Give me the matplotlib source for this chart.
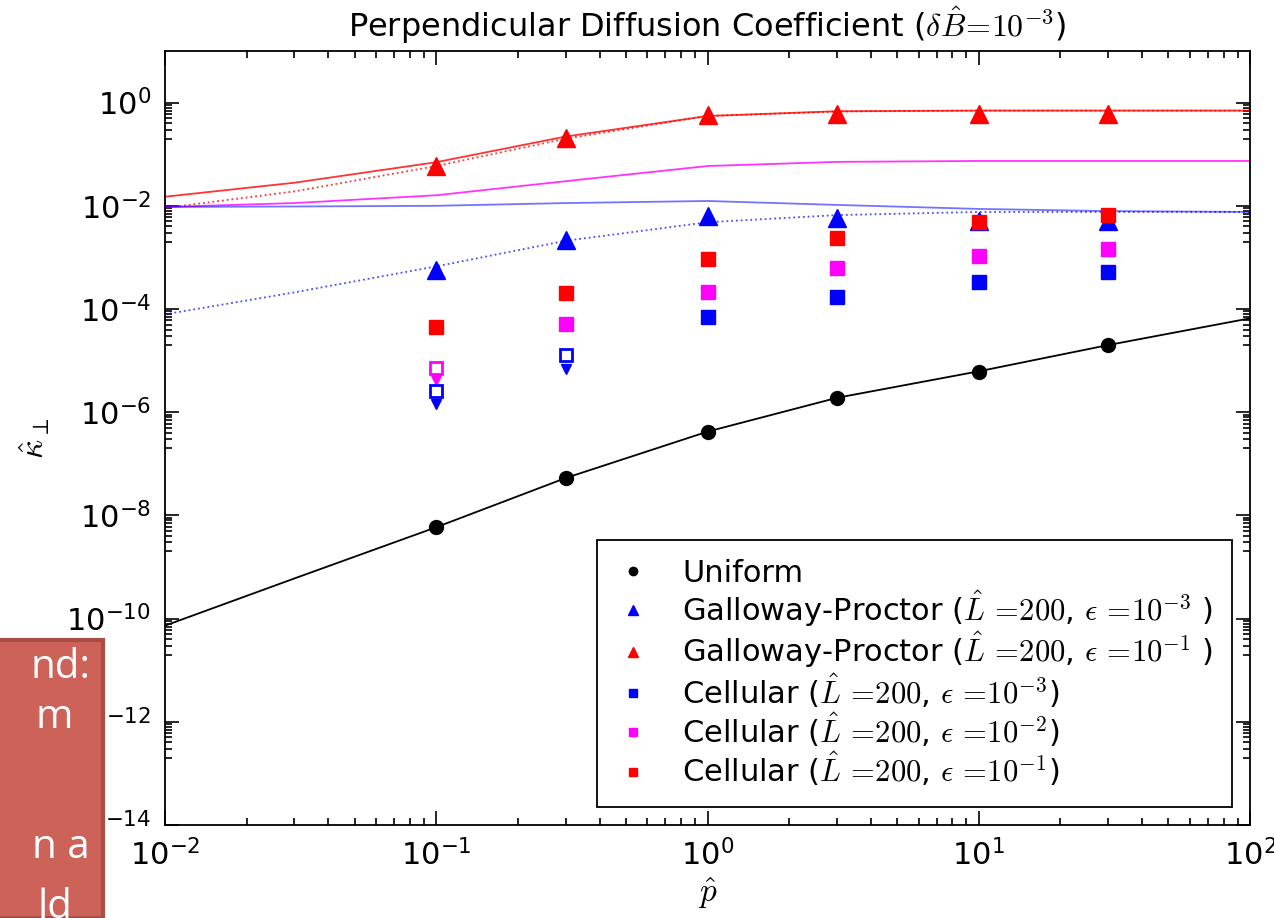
import matplotlib
matplotlib.use("Agg")
import matplotlib.pyplot as plt
import numpy as np
from matplotlib.patches import Rectangle
from matplotlib.ticker import FixedLocator, NullFormatter

plt.rcParams['mathtext.fontset'] = 'cm'
plt.rcParams['font.family'] = ['DejaVu Sans']

# ---- data ----
p_pts = [0.1, 0.3, 1, 3, 10, 30]
uniform = [5.9e-9, 5.3e-8, 4.2e-7, 1.9e-6, 6.1e-6, 2.0e-5]
gp_e3 = [5.6e-4, 2.2e-3, 6.3e-3, 5.8e-3, 5.0e-3, 5.0e-3]
gp_e1 = [0.059, 0.21, 0.58, 0.61, 0.61, 0.61]

cell_e3_p = [1, 3, 10, 30]
cell_e3 = [6.9e-5, 1.7e-4, 3.4e-4, 5.1e-4]
cell_e3_open_p = [0.1, 0.3]
cell_e3_open = [2.6e-6, 1.3e-5]
cell_e3_lim = [1.45e-6, 7.0e-6]

cell_e2_p = [0.3, 1, 3, 10, 30]
cell_e2 = [5.2e-5, 2.1e-4, 6.2e-4, 1.05e-3, 1.45e-3]
cell_e2_open_p = [0.1]
cell_e2_open = [7.3e-6]
cell_e2_lim = [4.3e-6]

cell_e1 = [4.4e-5, 2.0e-4, 9.3e-4, 2.4e-3, 4.8e-3, 6.6e-3]

p_line = [0.01, 0.03, 0.1, 0.3, 1, 3, 10, 30, 100]
uniform_model = [7.3e-11, 6.0e-10, 5.9e-9, 5.3e-8, 4.2e-7, 1.9e-6, 6.2e-6, 2.0e-5, 6.6e-5]
red_solid = [0.015, 0.028, 0.070, 0.22, 0.55, 0.68, 0.70, 0.70, 0.70]
red_dotted = [0.0091, 0.019, 0.059, 0.20, 0.55, 0.67, 0.70, 0.70, 0.70]
magenta_solid = [0.0095, 0.0113, 0.016, 0.030, 0.059, 0.071, 0.074, 0.074, 0.074]
blue_solid = [0.0095, 0.0097, 0.0100, 0.0113, 0.0124, 0.0104, 0.0087, 0.0079, 0.0076]
blue_dotted = [7.9e-5, 2.1e-4, 6.7e-4, 2.1e-3, 4.8e-3, 6.6e-3, 7.6e-3, 7.6e-3, 7.6e-3]

labels = ["Uniform",
          r"Galloway-Proctor ($\hat{L}\,=\!200$, $\epsilon\,=\!10^{-3}$ )",
          r"Galloway-Proctor ($\hat{L}\,=\!200$, $\epsilon\,=\!10^{-1}$ )",
          r"Cellular ($\hat{L}\,=\!200$, $\epsilon\,=\!10^{-3}$)",
          r"Cellular ($\hat{L}\,=\!200$, $\epsilon\,=\!10^{-2}$)",
          r"Cellular ($\hat{L}\,=\!200$, $\epsilon\,=\!10^{-1}$)"]

B = '#0000ff'; R = '#ff0000'; M = '#ff00ff'; K = '#000000'

fig = plt.figure(figsize=(12.74, 9.18), dpi=100)
ax = fig.add_axes([165/1274, 1-825/918, 1085/1274, 774/918])
ax.set_xscale('log'); ax.set_yscale('log')

# model curves
ax.plot(p_line, uniform_model, '-', color=K, lw=1.3)
ax.plot(p_line, red_solid, '-', color=R, lw=1.3, alpha=0.8)
ax.plot(p_line, red_dotted, ':', color=R, lw=1.3, alpha=0.8)
ax.plot(p_line, magenta_solid, '-', color=M, lw=1.3, alpha=0.8)
ax.plot(p_line, blue_solid, '-', color=B, lw=1.3, alpha=0.55)
ax.plot(p_line, blue_dotted, ':', color=B, lw=1.3, alpha=0.7)

# points
h_u, = ax.plot(p_pts, uniform, 'o', color=K, ms=10, ls='none')
h_g3, = ax.plot(p_pts, gp_e3, '^', color=B, mec=B, ms=13, ls='none')
h_g1, = ax.plot(p_pts, gp_e1, '^', color=R, mec=R, ms=13, ls='none')
ax.plot(cell_e2_open_p, cell_e2_lim, 'v', color=M, ms=7, ls='none')
ax.plot(cell_e3_open_p, cell_e3_lim, 'v', color=B, ms=7, ls='none')
ax.plot(cell_e3_open_p, cell_e3_open, 's', mfc='white', mec=B, mew=2, ms=9, ls='none')
ax.plot(cell_e2_open_p, cell_e2_open, 's', mfc='white', mec=M, mew=2, ms=9, ls='none')
h_c3, = ax.plot(cell_e3_p, cell_e3, 's', color=B, ms=10, ls='none')
h_c2, = ax.plot(cell_e2_p, cell_e2, 's', color=M, ms=10, ls='none')
h_c1, = ax.plot(p_pts, cell_e1, 's', color=R, ms=10, ls='none')

ax.set_xlim(1e-2, 1e2)
ax.set_ylim(1e-14, 1e1)

# ticks
ax.xaxis.set_major_locator(FixedLocator([1e-2, 1e-1, 1e0, 1e1, 1e2]))
xminor = [k * 10.0**e for e in range(-2, 2) for k in range(2, 10)]
ax.xaxis.set_minor_locator(FixedLocator(xminor))
ax.set_xticklabels([r'$\mathregular{10^{%d}}$' % e for e in range(-2, 3)])
ymaj = [10.0**e for e in range(-14, 1, 2)]
ax.yaxis.set_major_locator(FixedLocator(ymaj))
yminor = [k * 10.0**e for e in range(-15, 0, 2) for k in range(2, 10)]
ax.yaxis.set_minor_locator(FixedLocator(yminor))
ax.set_yticklabels([r'$\mathregular{10^{%d}}$' % e for e in range(-14, 1, 2)])
ax.xaxis.set_minor_formatter(NullFormatter())
ax.yaxis.set_minor_formatter(NullFormatter())
ax.tick_params(which='both', direction='in', top=True, right=True, labelsize=22, width=1.2)
ax.tick_params(which='major', length=10, pad=10)
ax.tick_params(which='minor', length=5)
for s in ax.spines.values():
    s.set_linewidth(1.3)

ax.set_title(r"Perpendicular Diffusion Coefficient ($\delta\hat{B}\!=\!10^{-3}$)", fontsize=23, pad=10)
ax.set_xlabel(r"$\hat{p}$", fontsize=24, labelpad=3)
ax.set_ylabel(r"$\hat{\kappa}_\perp$", fontsize=24, labelpad=10)

leg = ax.legend([h_u, h_g3, h_g1, h_c3, h_c2, h_c1], labels, loc='lower right',
                numpoints=1, markerscale=0.6, fontsize=22, fancybox=False,
                framealpha=1, edgecolor='black', borderaxespad=0.6,
                handletextpad=1.0, handlelength=1.2, labelspacing=0.02,
                borderpad=0.6)
leg.get_frame().set_linewidth(1.3)

# overlay box from slide
rect = Rectangle((-10/1274, 0), 113/1274, 278/918, transform=fig.transFigure,
                 facecolor='#cd6259', edgecolor='#a94d47', lw=3, zorder=10)
fig.add_artist(rect)
for txt, xr, yt in [("nd:", 90, 668), ("m", 73, 718), ("n a", 90, 848), ("ld", 72, 908)]:
    fig.text(xr/1274, 1-yt/918, txt, ha='right', va='center', color='white',
             fontsize=29, family='Open Sans', zorder=11)

fig.savefig("out.png", dpi=100)
